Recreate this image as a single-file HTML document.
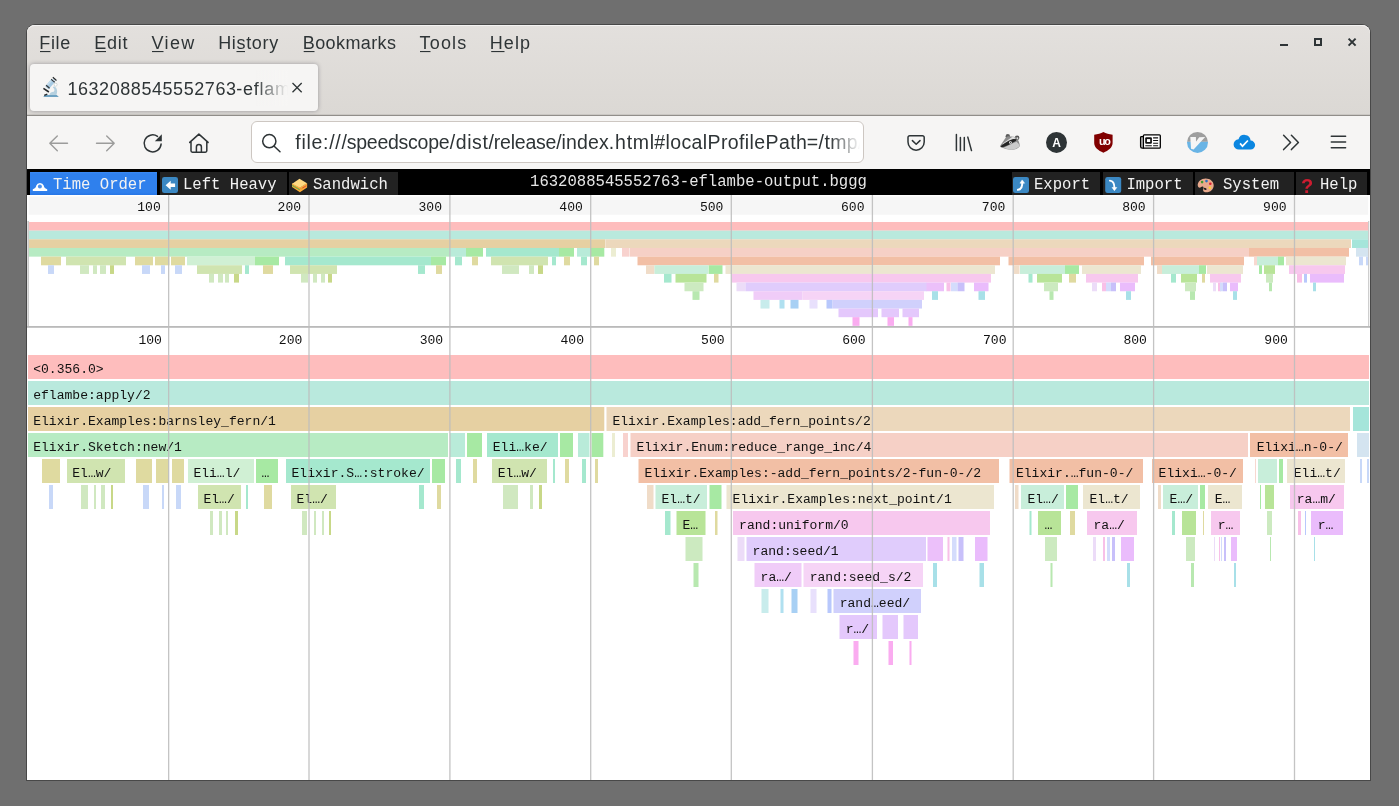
<!DOCTYPE html>
<html lang="en"><head><meta charset="utf-8"><title>1632088545552763-eflambe-output.bggg - speedscope</title>
<style>
html,body{margin:0;padding:0}
body{width:1399px;height:806px;overflow:hidden;background:#6f6f6f;position:relative;font-family:"Liberation Sans","DejaVu Sans",sans-serif;color:#2e3436}
.a{position:absolute}
.fg{position:absolute;left:27px;top:169px;will-change:transform}
.fg text{white-space:pre}

#win{left:27px;top:25px;width:1343px;height:755px;background:#fff;border-radius:8px 8px 0 0;box-shadow:0 0 0 1px #484848}
#title{left:27px;top:25px;width:1343px;height:90px;background:linear-gradient(#e3e0dd,#dbd8d4);border-radius:8px 8px 0 0;box-shadow:inset 0 1px 0 #f4f3f2}
#tabsep{left:27px;top:115px;width:1343px;height:1px;background:#918e8a;box-shadow:0 -1px 0 #cac7c3}
#tab{left:30px;top:64px;width:288px;height:47px;background:#f6f5f4;border-radius:4px;box-shadow:0 0 4px rgba(50,50,65,.4)}
#nav{left:27px;top:116px;width:1343px;height:53px;background:#f6f5f4}
#url{left:251px;top:121px;width:611px;height:40px;background:#fff;border:1px solid #cdc7c2;border-radius:6px}
#sstb{left:27px;top:169px;width:1343px;height:26px;background:#000}
.tb{top:172px;height:23px;background:#222}
.ov{position:absolute;left:0;top:0;will-change:transform}
.ov text{white-space:pre}

</style></head><body>
<div class="a" id="win"></div>
<div class="a" id="title"></div>
<div class="a" id="tabsep"></div>
<div class="a" id="tab"></div>
<div class="a" id="nav"></div>
<div class="a" id="url"></div>
<div class="a" id="sstb"></div>
<div class="a tb" style="left:30px;width:127px;background:linear-gradient(#3c8bf6,#2f80ed 8%,#2f80ed 88%,#2676e6)"></div>
<div class="a tb" style="left:159.5px;width:127.5px;background:#222"></div>
<div class="a tb" style="left:289px;width:109px;background:#222"></div>
<div class="a tb" style="left:1011.5px;width:88.5px;background:#222"></div>
<div class="a tb" style="left:1103px;width:90px;background:#222"></div>
<div class="a tb" style="left:1194.5px;width:99.5px;background:#222"></div>
<div class="a tb" style="left:1296px;width:71px;background:#222"></div>
<svg class="ov" width="1399" height="806" viewBox="0 0 1399 806">
<defs><linearGradient id="fadeTab" x1="0" x2="1" y1="0" y2="0"><stop offset="0" stop-color="#f6f5f4" stop-opacity="0"/><stop offset="1" stop-color="#f6f5f4"/></linearGradient><linearGradient id="fadeUrl" x1="0" x2="1" y1="0" y2="0"><stop offset="0" stop-color="#fff" stop-opacity="0"/><stop offset="1" stop-color="#fff"/></linearGradient></defs>
<g font-family='"Liberation Sans","DejaVu Sans",sans-serif'>
<text x="39.3" y="48.8" font-size="18" fill="#2e3436" textLength="31" lengthAdjust="spacing">File</text>
<text x="94.3" y="48.8" font-size="18" fill="#2e3436" textLength="33.3" lengthAdjust="spacing">Edit</text>
<text x="151.6" y="48.8" font-size="18" fill="#2e3436" textLength="42.6" lengthAdjust="spacing">View</text>
<text x="218.2" y="48.8" font-size="18" fill="#2e3436" textLength="60" lengthAdjust="spacing">History</text>
<text x="302.8" y="48.8" font-size="18" fill="#2e3436" textLength="93.2" lengthAdjust="spacing">Bookmarks</text>
<text x="419.6" y="48.8" font-size="18" fill="#2e3436" textLength="46.6" lengthAdjust="spacing">Tools</text>
<text x="489.8" y="48.8" font-size="18" fill="#2e3436" textLength="40.2" lengthAdjust="spacing">Help</text>
<rect x="40" y="51" width="10.5" height="1.1" fill="#2e3436"/>
<rect x="95.3" y="51" width="10.700000000000003" height="1.1" fill="#2e3436"/>
<rect x="152" y="51" width="11.5" height="1.1" fill="#2e3436"/>
<rect x="236.5" y="51" width="8.5" height="1.1" fill="#2e3436"/>
<rect x="303.7" y="51" width="10.800000000000011" height="1.1" fill="#2e3436"/>
<rect x="420" y="51" width="10.5" height="1.1" fill="#2e3436"/>
<rect x="491.2" y="51" width="13.300000000000011" height="1.1" fill="#2e3436"/>
<clipPath id="ct"><rect x="60" y="66" width="228" height="44"/></clipPath><clipPath id="cu"><rect x="290" y="122" width="571" height="40"/></clipPath>
<g clip-path="url(#ct)"><text y="95" font-size="18" fill="#2e3436"><tspan x="67.4" textLength="168.6" lengthAdjust="spacing">1632088545552763</tspan><tspan x="236.2" textLength="185.1" lengthAdjust="spacing">-eflambe-output.bggg</tspan></text></g>
<rect x="255" y="70" width="33" height="36" fill="url(#fadeTab)"/><rect x="288" y="70" width="29" height="36" fill="#f6f5f4"/>
<g clip-path="url(#cu)"><text y="148.8" font-size="19.5" fill="#2e3436"><tspan x="295.3" textLength="51.5" lengthAdjust="spacing">file:///</tspan><tspan x="346.8" textLength="102.8" lengthAdjust="spacing">speedscope</tspan><tspan x="449.8" textLength="44" lengthAdjust="spacing">/dist/</tspan><tspan x="493.8" textLength="67.8" lengthAdjust="spacing">release/</tspan><tspan x="561.6" textLength="47.2" lengthAdjust="spacing">index</tspan><tspan x="608.8" textLength="45.4" lengthAdjust="spacing">.html</tspan><tspan x="654.2" textLength="152.6" lengthAdjust="spacing">#localProfilePath</tspan><tspan x="806.8" textLength="56.7" lengthAdjust="spacing">=/tmp/</tspan></text></g>
<rect x="830" y="124" width="30" height="36" fill="url(#fadeUrl)"/><rect x="860" y="124" width="2" height="36" fill="#fff"/>
</g>
<g fill="none" stroke="#2e3436" stroke-width="2"><path d="M1280 45h8"/><rect x="1315" y="39" width="6" height="6"/><path d="M1348.6 38.6l7 7M1355.6 38.6l-7 7"/></g>
<path d="M292.5 83l9.2 9.2M301.7 83l-9.2 9.2" stroke="#2e3436" stroke-width="1.3" fill="none"/>
<g id="fav"><path d="M43.2 97l1.8-2.1h11.8l2 2.1z" fill="#6ea2c2"/><path d="M54 86.3c3.6 1.6 3.7 5.7 2.4 8.6h-7c.3-2.3 2.2-3.1 4.3-3.1 1.3-1.3.9-3.3-.9-4.3z" fill="#b5d0df"/><g transform="rotate(-49 50.9 83.2)"><rect x="44.8" y="80.9" width="10" height="4.6" rx=".8" fill="#a6c9e2"/><rect x="46.9" y="80.9" width="6.7" height="1.6" fill="#c6deee"/><rect x="45.6" y="80.9" width="1.3" height="4.6" fill="#33383b"/><rect x="53.5" y="80.9" width="1.2" height="4.6" fill="#33383b"/><rect x="54.7" y="81.8" width="1.4" height="2.8" fill="#cfe0ec"/><rect x="56" y="80.8" width="1.2" height="4.8" fill="#26292b"/></g><circle cx="55.6" cy="84.7" r="1.5" fill="#fff" stroke="#9aa" stroke-width=".4"/><path d="M43.4 88.4l5.5 3.6" stroke="#26292b" stroke-width="1.6" fill="none"/><path d="M44.2 95.4l3.1-1.3" stroke="#26292b" stroke-width="1.3" fill="none"/></g>
<g fill="none" stroke="#9c9c9b" stroke-width="1.4" stroke-linecap="round" stroke-linejoin="round"><path d="M67.5 143.3H49.8M57.3 135.9l-7.5 7.4 7.5 7.4"/><path d="M96.5 143.3h17.7M106.7 135.9l7.5 7.4-7.5 7.4"/></g>
<g fill="none" stroke="#2e3436" stroke-width="1.5" stroke-linecap="round" stroke-linejoin="round"><path d="M157.5 136.4a8.5 8.5 0 1 0 3.6 7.7"/><path d="M189.7 142.4l9.2-8.3 9.2 8.3M191 141.6v9.2a1.4 1.4 0 0 0 1.4 1.4h13a1.4 1.4 0 0 0 1.4-1.4v-9.2M196.4 152v-5a2.5 2.5 0 0 1 5 0v5"/><circle cx="269.3" cy="141.2" r="6.6"/><path d="M274.2 146.2l5.8 5.6"/><path d="M909.7 135.8h12.8a1.7 1.7 0 0 1 1.7 1.7v4.6a8.1 8.1 0 0 1-16.2 0v-4.6a1.7 1.7 0 0 1 1.7-1.7z"/><path d="M912.4 140.6l3.8 3.7 3.8-3.7"/><path d="M956.4 134.4v16.2M960.4 137.4v13.2M964.3 137.4v13.2M967.8 137.1l3.7 13.5"/><path d="M1283.6 135.2l7 7.2-7 7.2M1291.4 135.2l7 7.2-7 7.2"/><path d="M1331.3 136.3h14.3M1331.3 142h14.3M1331.3 147.7h14.3"/></g>
<path d="M161.8 134.3v7h-7z" fill="#2e3436"/>
<g id="badger"><circle cx="1007.8" cy="136.3" r="2.2" fill="#5c5c5c"/><circle cx="1017.1" cy="137.8" r="2.3" fill="#555"/><circle cx="1017.3" cy="138.3" r="1" fill="#d8d8d8"/><path d="M1000.2 145.8l5.6-8.4c1.5-1.1 2.8-1.3 4.2-.8 2-.3 4-.1 5.6.7l2.7 3.2c1 2 1.6 4 1.3 6.1-2.1 2.2-4.8 3.3-7.8 3.2-3.8 0-8.3-1.5-11-2.6z" fill="#8c8c8c"/><path d="M1002.5 143.8l10.3-7.2 2.9 1.4-10.5 8.2z" fill="#dedede"/><path d="M1000.3 146.4l3.8-2.9 5-3 4-1.5 3.6.3-.9 1.7-3.3 1.8-3.5 2-4 1.7-3 .8z" fill="#242424"/><path d="M1003.5 147.7l5.5-2.4 4-2.1 3.5-1.5 2.3 2.3.5 2.5-3.3 2.2-4.2 1.1-4.8-.8z" fill="#cbcbcb"/><ellipse cx="1010.4" cy="142.5" rx="1.4" ry="1.2" fill="#f0f0f0"/><circle cx="1010.5" cy="142.5" r=".6" fill="#333"/></g>
<circle cx="1056.5" cy="142.4" r="10.5" fill="#2e3436"/>
<text x="1056.5" y="146.7" font-family='"Liberation Sans","DejaVu Sans",sans-serif' font-weight="bold" font-size="12" fill="#fff" text-anchor="middle">A</text>
<path d="M1103.4 132.1c2.6 1.5 5.6 2.4 9.2 2.7v8.2c0 4.5-4.1 7.5-9.2 9.7-5.1-2.2-9.2-5.2-9.2-9.7v-8.2c3.6-.3 6.6-1.2 9.2-2.7z" fill="#800000"/>
<text x="1104.2" y="144.5" font-family='"Liberation Sans","DejaVu Sans",sans-serif' font-weight="bold" font-size="10.8" fill="#fff" text-anchor="middle" letter-spacing="-1.4">uo</text>
<path d="M1144 136.6h-2.6a.8.8 0 0 0-.8.8v9.2a1.6 1.6 0 0 0 1.6 1.6h2" fill="#c8c8c8" stroke="#000" stroke-width="1.3"/><rect x="1143.4" y="134.9" width="16.9" height="13.3" rx=".9" fill="#fff" stroke="#000" stroke-width="1.3"/><rect x="1145.2" y="137.2" width="6.7" height="6.5" rx="1" fill="#111"/><rect x="1146.9" y="139.1" width="3.3" height="2.9" fill="#fff"/><path d="M1153.1 137.9h5M1153.1 140.5h5M1153.1 143.3h5M1153.1 145.7h5M1145.3 145.7h6.5" stroke="#111" stroke-width="1.1" fill="none"/>
<clipPath id="vc"><circle cx="1197.5" cy="142.4" r="10.5"/></clipPath><g clip-path="url(#vc)"><rect x="1186" y="131" width="23" height="10.8" fill="#9e9e9e"/><rect x="1186" y="141.8" width="23" height="12" fill="#69b4e5"/><path d="M1190.3 137.1h5.6l.1 4.7 3.2-4.6 6-.1-11.6 12.3-2.6-.7z" fill="#f5f5f5"/></g>
<path d="M1239.1 149.6a5.2 5.2 0 0 1-.6-10.4 6.2 6.2 0 0 1 12.1 1.4 4.5 4.5 0 0 1 0 9z" fill="#0b86e0"/><path d="M1240.1 143.4l2.4 2.8 5.4-5.7" stroke="#fff" stroke-width="1.7" fill="none"/>
<g font-family='"Liberation Mono","DejaVu Sans Mono",monospace' font-size="15.6" fill="#f2f2f2">
<text x="53" y="188.8">Time Order</text>
<text x="183" y="188.8">Left Heavy</text>
<text x="313" y="188.8">Sandwich</text>
<text x="1034" y="188.8">Export</text>
<text x="1126.4" y="188.8">Import</text>
<text x="1223" y="188.8">System</text>
<text x="1320" y="188.8">Help</text>
<text x="698.5" y="186" text-anchor="middle" fill="#e6e6e6">1632088545552763-eflambe-output.bggg</text>
</g>
<path d="M32.8 191v-1.8c2.5-.5 3.1-2 3.5-3.6a3.9 3.9 0 0 1 7.4 0c.4 1.6 1 3.1 3.5 3.6v1.8z" fill="#fff"/><circle cx="39.9" cy="186.5" r="2" fill="#4f93ee"/>
<rect x="162" y="177" width="16" height="16" rx="2.3" fill="#3b88c3"/><path d="M165.6 185.3l5.1-4.5v2.6h4.4v3.5h-4.4v2.9z" fill="#fff"/>
<g id="sand"><path d="M292 185.5l7.9 4.5 7.2-4.5v2l-7.2 4.8-7.9-5.3z" fill="#ffac33"/><path d="M292 184.6l7.9 4.4v1.5l-7.9-4.5z" fill="#77b255"/><path d="M299.9 189l7.2-4.5v1.4l-7.2 4.6z" fill="#f4a640"/><path d="M302.5 187.5l3.8-2.4v1l-3.8 2.4z" fill="#dd2e44"/><path d="M292 183.2l7.9 4.4 7.2-4.6v1.7l-7.2 4.6-7.9-4.5z" fill="#ffac33"/><path d="M292.2 183.7l7.3-5 7.5 4.5-7.1 4.6z" fill="#ffd983"/></g>
<rect x="1013" y="177" width="16" height="16" rx="2.3" fill="#3b88c3"/><path d="M1017.9 189.8c3.1-.3 4.4-2.3 4.4-7" stroke="#fff" stroke-width="1.9" fill="none" stroke-linecap="round"/><path d="M1019.9 183.2l2.3-3.3 2.4 3.3z" fill="#fff" stroke="#fff" stroke-width=".5" stroke-linejoin="round"/>
<rect x="1105.2" y="177" width="16" height="16" rx="2.3" fill="#3b88c3"/><path d="M1109.9 180.6c3.3.4 4.5 2.4 4.5 7" stroke="#fff" stroke-width="1.9" fill="none" stroke-linecap="round"/><path d="M1112 187.5l2.4 3.2 2.4-3.2z" fill="#fff" stroke="#fff" stroke-width=".5" stroke-linejoin="round"/>
<g id="pal"><path d="M1205.7 178.4c-4.6 0-8 3.1-8 6.7 0 1.7.9 2.6 2 2.6 1.3 0 1.6-1.2 2.7-1.2.9 0 1.4.6 1.1 1.5-.6 1.7-1 4.3 2.8 4.3 4.3 0 7.4-3.2 7.4-7.1 0-3.9-3.6-6.8-8-6.8z" fill="#e9a98c"/><ellipse cx="1205.1" cy="188.9" rx="1.5" ry=".9" transform="rotate(20 1205.1 188.9)" fill="#222"/><circle cx="1202.1" cy="182.1" r="1.3" fill="#3e9a2e"/><circle cx="1206.5" cy="181.1" r="1.3" fill="#2a6fc0"/><circle cx="1210.3" cy="183.7" r="1.3" fill="#dd2034"/><circle cx="1209.9" cy="187.7" r="1.3" fill="#ffd030"/></g>
<text x="1307.1" y="192.5" font-family='"Liberation Sans","DejaVu Sans",sans-serif' font-weight="bold" font-size="20" fill="#cc1c30" text-anchor="middle">?</text>
</svg>
<svg class="fg" width="1343" height="611" viewBox="27 169 1343 611">
<rect x="27" y="195" width="1343" height="19.7" fill="#f6f6f6"/>
<rect x="27.5" y="222" width="1342" height="8.7" fill="#febdbd"/>
<rect x="27.5" y="230.65" width="1342" height="8.7" fill="#b9e9dd"/>
<rect x="27.5" y="239.3" width="577.8" height="8.7" fill="#e6d0a2"/>
<rect x="605.5" y="239.3" width="745.5" height="8.7" fill="#ecd8bc"/>
<rect x="1352" y="239.3" width="17.5" height="8.7" fill="#a5e5da"/>
<rect x="27.5" y="247.95" width="421.5" height="8.7" fill="#b7ebc3"/>
<rect x="449" y="247.95" width="17" height="8.7" fill="#b9ebd9"/>
<rect x="466" y="247.95" width="17" height="8.7" fill="#a7e9a3"/>
<rect x="486" y="247.95" width="73" height="8.7" fill="#a5e8ce"/>
<rect x="559" y="247.95" width="15" height="8.7" fill="#a7e9a3"/>
<rect x="577" y="247.95" width="13.5" height="8.7" fill="#b9ebd9"/>
<rect x="590.5" y="247.95" width="13.8" height="8.7" fill="#a7e9a3"/>
<rect x="611" y="247.95" width="5" height="8.7" fill="#ecedd2"/>
<rect x="622" y="247.95" width="7" height="8.7" fill="#f8d2ce"/>
<rect x="629.5" y="247.95" width="619.5" height="8.7" fill="#f6d0c6"/>
<rect x="1249" y="247.95" width="100" height="8.7" fill="#f2bfa5"/>
<rect x="1356" y="247.95" width="13.5" height="8.7" fill="#d4e4f0"/>
<rect x="41" y="256.6" width="20" height="8.7" fill="#dfdaa0"/>
<rect x="66" y="256.6" width="60" height="8.7" fill="#d0e4b0"/>
<rect x="135" y="256.6" width="18" height="8.7" fill="#dfdaa0"/>
<rect x="155" y="256.6" width="14.5" height="8.7" fill="#dfdaa0"/>
<rect x="171" y="256.6" width="14" height="8.7" fill="#dfdaa0"/>
<rect x="187" y="256.6" width="68" height="8.7" fill="#d0f0d4"/>
<rect x="255" y="256.6" width="24" height="8.7" fill="#a7e9a3"/>
<rect x="285" y="256.6" width="146" height="8.7" fill="#a5e8ce"/>
<rect x="431" y="256.6" width="15" height="8.7" fill="#a7e9a3"/>
<rect x="455" y="256.6" width="7" height="8.7" fill="#a5e8ce"/>
<rect x="472" y="256.6" width="6" height="8.7" fill="#dfdaa0"/>
<rect x="491" y="256.6" width="57" height="8.7" fill="#d0e4b0"/>
<rect x="552" y="256.6" width="4" height="8.7" fill="#a5e8ce"/>
<rect x="564" y="256.6" width="6" height="8.7" fill="#dfdaa0"/>
<rect x="581" y="256.6" width="6" height="8.7" fill="#a5e8ce"/>
<rect x="594" y="256.6" width="5" height="8.7" fill="#dfdaa0"/>
<rect x="637.5" y="256.6" width="362.5" height="8.7" fill="#f2bfa5"/>
<rect x="1008.5" y="256.6" width="135.5" height="8.7" fill="#f2bfa5"/>
<rect x="1151" y="256.6" width="93" height="8.7" fill="#f2bfa5"/>
<rect x="1254" y="256.6" width="3" height="8.7" fill="#f8d8d0"/>
<rect x="1257" y="256.6" width="21" height="8.7" fill="#c8eeda"/>
<rect x="1278" y="256.6" width="6" height="8.7" fill="#a7e9a3"/>
<rect x="1286" y="256.6" width="60" height="8.7" fill="#ece6d0"/>
<rect x="1359" y="256.6" width="4" height="8.7" fill="#c8d8f8"/>
<rect x="1366" y="256.6" width="3.5" height="8.7" fill="#c8d8f8"/>
<rect x="48" y="265.25" width="6" height="8.7" fill="#c8d8f8"/>
<rect x="80" y="265.25" width="9" height="8.7" fill="#d0e8c0"/>
<rect x="93" y="265.25" width="4" height="8.7" fill="#d0e8c0"/>
<rect x="100" y="265.25" width="6" height="8.7" fill="#d0e8c0"/>
<rect x="110" y="265.25" width="4" height="8.7" fill="#c8d888"/>
<rect x="142" y="265.25" width="8" height="8.7" fill="#c8d8f8"/>
<rect x="161" y="265.25" width="4" height="8.7" fill="#c8d8f8"/>
<rect x="175" y="265.25" width="7" height="8.7" fill="#c8d8f8"/>
<rect x="197" y="265.25" width="45" height="8.7" fill="#d0e4b0"/>
<rect x="245" y="265.25" width="4" height="8.7" fill="#a5e8ce"/>
<rect x="263" y="265.25" width="10" height="8.7" fill="#dfdaa0"/>
<rect x="290" y="265.25" width="47" height="8.7" fill="#d0e4b0"/>
<rect x="418" y="265.25" width="7" height="8.7" fill="#a5e8ce"/>
<rect x="436" y="265.25" width="6" height="8.7" fill="#dfdaa0"/>
<rect x="502" y="265.25" width="17" height="8.7" fill="#d0e8c0"/>
<rect x="529" y="265.25" width="5" height="8.7" fill="#d0e8c0"/>
<rect x="538" y="265.25" width="5" height="8.7" fill="#c8d888"/>
<rect x="646" y="265.25" width="8.5" height="8.7" fill="#f0dcc8"/>
<rect x="654.5" y="265.25" width="53.5" height="8.7" fill="#c8eeda"/>
<rect x="708.5" y="265.25" width="14" height="8.7" fill="#a7e9a3"/>
<rect x="725.5" y="265.25" width="269.5" height="8.7" fill="#ece6d0"/>
<rect x="1014" y="265.25" width="5.5" height="8.7" fill="#f0dcc8"/>
<rect x="1020" y="265.25" width="45" height="8.7" fill="#c8eeda"/>
<rect x="1065" y="265.25" width="14" height="8.7" fill="#a7e9a3"/>
<rect x="1082" y="265.25" width="59" height="8.7" fill="#ece6d0"/>
<rect x="1157" y="265.25" width="5" height="8.7" fill="#f0dcc8"/>
<rect x="1162" y="265.25" width="37" height="8.7" fill="#c8eeda"/>
<rect x="1199" y="265.25" width="7" height="8.7" fill="#a7e9a3"/>
<rect x="1207" y="265.25" width="36" height="8.7" fill="#ece6d0"/>
<rect x="1259" y="265.25" width="3" height="8.7" fill="#a7e9a3"/>
<rect x="1264" y="265.25" width="11" height="8.7" fill="#b8e498"/>
<rect x="1289" y="265.25" width="56" height="8.7" fill="#f7c8ee"/>
<rect x="209" y="273.9" width="5" height="8.7" fill="#d0e8c0"/>
<rect x="218" y="273.9" width="5" height="8.7" fill="#d0e8c0"/>
<rect x="225" y="273.9" width="4" height="8.7" fill="#d0e8c0"/>
<rect x="234" y="273.9" width="5" height="8.7" fill="#c8d888"/>
<rect x="301" y="273.9" width="7" height="8.7" fill="#d0e8c0"/>
<rect x="313" y="273.9" width="4" height="8.7" fill="#d0e8c0"/>
<rect x="321" y="273.9" width="4" height="8.7" fill="#d0e8c0"/>
<rect x="328" y="273.9" width="4" height="8.7" fill="#c8d888"/>
<rect x="664" y="273.9" width="7.5" height="8.7" fill="#a5e8ce"/>
<rect x="675.5" y="273.9" width="31" height="8.7" fill="#b8e498"/>
<rect x="714" y="273.9" width="4.5" height="8.7" fill="#dfdaa0"/>
<rect x="732" y="273.9" width="259" height="8.7" fill="#f7c8ee"/>
<rect x="1028.5" y="273.9" width="4" height="8.7" fill="#a5e8ce"/>
<rect x="1037" y="273.9" width="25" height="8.7" fill="#b8e498"/>
<rect x="1069" y="273.9" width="7" height="8.7" fill="#dfdaa0"/>
<rect x="1086" y="273.9" width="52" height="8.7" fill="#f7c8ee"/>
<rect x="1171" y="273.9" width="5" height="8.7" fill="#a5e8ce"/>
<rect x="1181" y="273.9" width="16" height="8.7" fill="#b8e498"/>
<rect x="1202" y="273.9" width="3" height="8.7" fill="#dfdaa0"/>
<rect x="1210" y="273.9" width="31" height="8.7" fill="#f7c8ee"/>
<rect x="1266" y="273.9" width="7" height="8.7" fill="#ccEAc0"/>
<rect x="1297" y="273.9" width="5" height="8.7" fill="#f8c0e8"/>
<rect x="1304" y="273.9" width="3" height="8.7" fill="#b8c8fc"/>
<rect x="1310" y="273.9" width="34" height="8.7" fill="#eabcfc"/>
<rect x="684.5" y="282.55" width="19" height="8.7" fill="#ccEAc0"/>
<rect x="736.5" y="282.55" width="9" height="8.7" fill="#ecdcf8"/>
<rect x="745.5" y="282.55" width="181.5" height="8.7" fill="#e0ccfc"/>
<rect x="926.5" y="282.55" width="17.5" height="8.7" fill="#ecc0fa"/>
<rect x="946.5" y="282.55" width="4" height="8.7" fill="#f8c0e8"/>
<rect x="951" y="282.55" width="6.5" height="8.7" fill="#d4dcfc"/>
<rect x="957.5" y="282.55" width="7" height="8.7" fill="#c8c0fa"/>
<rect x="974" y="282.55" width="14.5" height="8.7" fill="#eabcfc"/>
<rect x="1044" y="282.55" width="14" height="8.7" fill="#ccEAc0"/>
<rect x="1092" y="282.55" width="5" height="8.7" fill="#ecdcf8"/>
<rect x="1102" y="282.55" width="4" height="8.7" fill="#f8c0e8"/>
<rect x="1106" y="282.55" width="5" height="8.7" fill="#d4dcfc"/>
<rect x="1111" y="282.55" width="5" height="8.7" fill="#c8c0fa"/>
<rect x="1120" y="282.55" width="15" height="8.7" fill="#eabcfc"/>
<rect x="1185" y="282.55" width="11" height="8.7" fill="#ccEAc0"/>
<rect x="1213" y="282.55" width="3" height="8.7" fill="#ecdcf8"/>
<rect x="1218" y="282.55" width="3" height="8.7" fill="#f8c0e8"/>
<rect x="1220" y="282.55" width="3" height="8.7" fill="#d4dcfc"/>
<rect x="1223" y="282.55" width="4" height="8.7" fill="#c8c0fa"/>
<rect x="1230" y="282.55" width="8" height="8.7" fill="#eabcfc"/>
<rect x="1269" y="282.55" width="3" height="8.7" fill="#b8e8b0"/>
<rect x="1313" y="282.55" width="3" height="8.7" fill="#a8e0e8"/>
<rect x="692.5" y="291.2" width="7" height="8.7" fill="#b8e8b0"/>
<rect x="753.5" y="291.2" width="49" height="8.7" fill="#f0ccf8"/>
<rect x="802.5" y="291.2" width="121.5" height="8.7" fill="#f6d4f6"/>
<rect x="932" y="291.2" width="6" height="8.7" fill="#a8e0e8"/>
<rect x="978.5" y="291.2" width="6.5" height="8.7" fill="#a8e0e8"/>
<rect x="1049.5" y="291.2" width="4" height="8.7" fill="#b8e8b0"/>
<rect x="1126" y="291.2" width="5" height="8.7" fill="#a8e0e8"/>
<rect x="1190" y="291.2" width="5" height="8.7" fill="#b8e8b0"/>
<rect x="1233" y="291.2" width="4" height="8.7" fill="#a8e0e8"/>
<rect x="760.5" y="299.85" width="9" height="8.7" fill="#c8ecec"/>
<rect x="779.5" y="299.85" width="5" height="8.7" fill="#b0e0f0"/>
<rect x="790.5" y="299.85" width="8" height="8.7" fill="#a8d0f4"/>
<rect x="809.5" y="299.85" width="8" height="8.7" fill="#e8e0fc"/>
<rect x="826.5" y="299.85" width="6" height="8.7" fill="#b8c8fc"/>
<rect x="832.5" y="299.85" width="89.5" height="8.7" fill="#d0d0fc"/>
<rect x="838.5" y="308.5" width="39.5" height="8.7" fill="#e4c8fc"/>
<rect x="881.5" y="308.5" width="17.5" height="8.7" fill="#e4c8fc"/>
<rect x="902.5" y="308.5" width="16.5" height="8.7" fill="#e4c8fc"/>
<rect x="852.5" y="317.15" width="7" height="8.7" fill="#faacf0"/>
<rect x="887.5" y="317.15" width="6.5" height="8.7" fill="#faacf0"/>
<rect x="908.5" y="317.15" width="4" height="8.7" fill="#faacf0"/>
<rect x="28" y="355" width="1341" height="24" fill="#febdbd"/>
<rect x="28" y="381" width="1341" height="24" fill="#b9e9dd"/>
<rect x="28" y="407" width="576.3" height="24" fill="#e6d0a2"/>
<rect x="606.5" y="407" width="743.5" height="24" fill="#ecd8bc"/>
<rect x="1353" y="407" width="16" height="24" fill="#a5e5da"/>
<rect x="28" y="433" width="420" height="24" fill="#b7ebc3"/>
<rect x="450" y="433" width="15" height="24" fill="#b9ebd9"/>
<rect x="467" y="433" width="15" height="24" fill="#a7e9a3"/>
<rect x="487" y="433" width="71" height="24" fill="#a5e8ce"/>
<rect x="560" y="433" width="13" height="24" fill="#a7e9a3"/>
<rect x="578" y="433" width="11.5" height="24" fill="#b9ebd9"/>
<rect x="591.5" y="433" width="11.8" height="24" fill="#a7e9a3"/>
<rect x="612" y="433" width="3" height="24" fill="#ecedd2"/>
<rect x="623" y="433" width="5" height="24" fill="#f8d2ce"/>
<rect x="630.5" y="433" width="617.5" height="24" fill="#f6d0c6"/>
<rect x="1250" y="433" width="98" height="24" fill="#f2bfa5"/>
<rect x="1357" y="433" width="12" height="24" fill="#d4e4f0"/>
<rect x="42" y="459" width="18" height="24" fill="#dfdaa0"/>
<rect x="67" y="459" width="58" height="24" fill="#d0e4b0"/>
<rect x="136" y="459" width="16" height="24" fill="#dfdaa0"/>
<rect x="156" y="459" width="12.5" height="24" fill="#dfdaa0"/>
<rect x="172" y="459" width="12" height="24" fill="#dfdaa0"/>
<rect x="188" y="459" width="66" height="24" fill="#d0f0d4"/>
<rect x="256" y="459" width="22" height="24" fill="#a7e9a3"/>
<rect x="286" y="459" width="144" height="24" fill="#a5e8ce"/>
<rect x="432" y="459" width="13" height="24" fill="#a7e9a3"/>
<rect x="456" y="459" width="5" height="24" fill="#a5e8ce"/>
<rect x="473" y="459" width="4" height="24" fill="#dfdaa0"/>
<rect x="492" y="459" width="55" height="24" fill="#d0e4b0"/>
<rect x="553" y="459" width="2" height="24" fill="#a5e8ce"/>
<rect x="565" y="459" width="4" height="24" fill="#dfdaa0"/>
<rect x="582" y="459" width="4" height="24" fill="#a5e8ce"/>
<rect x="595" y="459" width="3" height="24" fill="#dfdaa0"/>
<rect x="638.5" y="459" width="360.5" height="24" fill="#f2bfa5"/>
<rect x="1009.5" y="459" width="133.5" height="24" fill="#f2bfa5"/>
<rect x="1152" y="459" width="91" height="24" fill="#f2bfa5"/>
<rect x="1255" y="459" width="1" height="24" fill="#f8d8d0"/>
<rect x="1258" y="459" width="19" height="24" fill="#c8eeda"/>
<rect x="1279" y="459" width="4" height="24" fill="#a7e9a3"/>
<rect x="1287" y="459" width="58" height="24" fill="#ece6d0"/>
<rect x="1360" y="459" width="2" height="24" fill="#c8d8f8"/>
<rect x="1367" y="459" width="2" height="24" fill="#c8d8f8"/>
<rect x="49" y="485" width="4" height="24" fill="#c8d8f8"/>
<rect x="81" y="485" width="7" height="24" fill="#d0e8c0"/>
<rect x="94" y="485" width="2" height="24" fill="#d0e8c0"/>
<rect x="101" y="485" width="4" height="24" fill="#d0e8c0"/>
<rect x="111" y="485" width="2" height="24" fill="#c8d888"/>
<rect x="143" y="485" width="6" height="24" fill="#c8d8f8"/>
<rect x="162" y="485" width="2" height="24" fill="#c8d8f8"/>
<rect x="176" y="485" width="5" height="24" fill="#c8d8f8"/>
<rect x="198" y="485" width="43" height="24" fill="#d0e4b0"/>
<rect x="246" y="485" width="2" height="24" fill="#a5e8ce"/>
<rect x="264" y="485" width="8" height="24" fill="#dfdaa0"/>
<rect x="291" y="485" width="45" height="24" fill="#d0e4b0"/>
<rect x="419" y="485" width="5" height="24" fill="#a5e8ce"/>
<rect x="437" y="485" width="4" height="24" fill="#dfdaa0"/>
<rect x="503" y="485" width="15" height="24" fill="#d0e8c0"/>
<rect x="530" y="485" width="3" height="24" fill="#d0e8c0"/>
<rect x="539" y="485" width="3" height="24" fill="#c8d888"/>
<rect x="647" y="485" width="6.5" height="24" fill="#f0dcc8"/>
<rect x="655.5" y="485" width="51.5" height="24" fill="#c8eeda"/>
<rect x="709.5" y="485" width="12" height="24" fill="#a7e9a3"/>
<rect x="726.5" y="485" width="267.5" height="24" fill="#ece6d0"/>
<rect x="1015" y="485" width="3.5" height="24" fill="#f0dcc8"/>
<rect x="1021" y="485" width="43" height="24" fill="#c8eeda"/>
<rect x="1066" y="485" width="12" height="24" fill="#a7e9a3"/>
<rect x="1083" y="485" width="57" height="24" fill="#ece6d0"/>
<rect x="1158" y="485" width="3" height="24" fill="#f0dcc8"/>
<rect x="1163" y="485" width="35" height="24" fill="#c8eeda"/>
<rect x="1200" y="485" width="5" height="24" fill="#a7e9a3"/>
<rect x="1208" y="485" width="34" height="24" fill="#ece6d0"/>
<rect x="1260" y="485" width="1" height="24" fill="#a7e9a3"/>
<rect x="1265" y="485" width="9" height="24" fill="#b8e498"/>
<rect x="1290" y="485" width="54" height="24" fill="#f7c8ee"/>
<rect x="210" y="511" width="3" height="24" fill="#d0e8c0"/>
<rect x="219" y="511" width="3" height="24" fill="#d0e8c0"/>
<rect x="226" y="511" width="2" height="24" fill="#d0e8c0"/>
<rect x="235" y="511" width="3" height="24" fill="#c8d888"/>
<rect x="302" y="511" width="5" height="24" fill="#d0e8c0"/>
<rect x="314" y="511" width="2" height="24" fill="#d0e8c0"/>
<rect x="322" y="511" width="2" height="24" fill="#d0e8c0"/>
<rect x="329" y="511" width="2" height="24" fill="#c8d888"/>
<rect x="665" y="511" width="5.5" height="24" fill="#a5e8ce"/>
<rect x="676.5" y="511" width="29" height="24" fill="#b8e498"/>
<rect x="715" y="511" width="2.5" height="24" fill="#dfdaa0"/>
<rect x="733" y="511" width="257" height="24" fill="#f7c8ee"/>
<rect x="1029.5" y="511" width="2" height="24" fill="#a5e8ce"/>
<rect x="1038" y="511" width="23" height="24" fill="#b8e498"/>
<rect x="1070" y="511" width="5" height="24" fill="#dfdaa0"/>
<rect x="1087" y="511" width="50" height="24" fill="#f7c8ee"/>
<rect x="1172" y="511" width="3" height="24" fill="#a5e8ce"/>
<rect x="1182" y="511" width="14" height="24" fill="#b8e498"/>
<rect x="1203" y="511" width="1" height="24" fill="#dfdaa0"/>
<rect x="1211" y="511" width="29" height="24" fill="#f7c8ee"/>
<rect x="1267" y="511" width="5" height="24" fill="#ccEAc0"/>
<rect x="1298" y="511" width="3" height="24" fill="#f8c0e8"/>
<rect x="1305" y="511" width="1" height="24" fill="#b8c8fc"/>
<rect x="1311" y="511" width="32" height="24" fill="#eabcfc"/>
<rect x="685.5" y="537" width="17" height="24" fill="#ccEAc0"/>
<rect x="737.5" y="537" width="7" height="24" fill="#ecdcf8"/>
<rect x="746.5" y="537" width="179.5" height="24" fill="#e0ccfc"/>
<rect x="927.5" y="537" width="15.5" height="24" fill="#ecc0fa"/>
<rect x="947.5" y="537" width="2" height="24" fill="#f8c0e8"/>
<rect x="952" y="537" width="4.5" height="24" fill="#d4dcfc"/>
<rect x="958.5" y="537" width="5" height="24" fill="#c8c0fa"/>
<rect x="975" y="537" width="12.5" height="24" fill="#eabcfc"/>
<rect x="1045" y="537" width="12" height="24" fill="#ccEAc0"/>
<rect x="1093" y="537" width="3" height="24" fill="#ecdcf8"/>
<rect x="1103" y="537" width="2" height="24" fill="#f8c0e8"/>
<rect x="1107" y="537" width="3" height="24" fill="#d4dcfc"/>
<rect x="1112" y="537" width="3" height="24" fill="#c8c0fa"/>
<rect x="1121" y="537" width="13" height="24" fill="#eabcfc"/>
<rect x="1186" y="537" width="9" height="24" fill="#ccEAc0"/>
<rect x="1214" y="537" width="1" height="24" fill="#ecdcf8"/>
<rect x="1219" y="537" width="1" height="24" fill="#f8c0e8"/>
<rect x="1221" y="537" width="1" height="24" fill="#d4dcfc"/>
<rect x="1224" y="537" width="2" height="24" fill="#c8c0fa"/>
<rect x="1231" y="537" width="6" height="24" fill="#eabcfc"/>
<rect x="1270" y="537" width="1" height="24" fill="#b8e8b0"/>
<rect x="1314" y="537" width="1" height="24" fill="#a8e0e8"/>
<rect x="693.5" y="563" width="5" height="24" fill="#b8e8b0"/>
<rect x="754.5" y="563" width="47" height="24" fill="#f0ccf8"/>
<rect x="803.5" y="563" width="119.5" height="24" fill="#f6d4f6"/>
<rect x="933" y="563" width="4" height="24" fill="#a8e0e8"/>
<rect x="979.5" y="563" width="4.5" height="24" fill="#a8e0e8"/>
<rect x="1050.5" y="563" width="2" height="24" fill="#b8e8b0"/>
<rect x="1127" y="563" width="3" height="24" fill="#a8e0e8"/>
<rect x="1191" y="563" width="3" height="24" fill="#b8e8b0"/>
<rect x="1234" y="563" width="2" height="24" fill="#a8e0e8"/>
<rect x="761.5" y="589" width="7" height="24" fill="#c8ecec"/>
<rect x="780.5" y="589" width="3" height="24" fill="#b0e0f0"/>
<rect x="791.5" y="589" width="6" height="24" fill="#a8d0f4"/>
<rect x="810.5" y="589" width="6" height="24" fill="#e8e0fc"/>
<rect x="827.5" y="589" width="4" height="24" fill="#b8c8fc"/>
<rect x="833.5" y="589" width="87.5" height="24" fill="#d0d0fc"/>
<rect x="839.5" y="615" width="37.5" height="24" fill="#e4c8fc"/>
<rect x="882.5" y="615" width="15.5" height="24" fill="#e4c8fc"/>
<rect x="903.5" y="615" width="14.5" height="24" fill="#e4c8fc"/>
<rect x="853.5" y="641" width="5" height="24" fill="#faacf0"/>
<rect x="888.5" y="641" width="4.5" height="24" fill="#faacf0"/>
<rect x="909.5" y="641" width="2" height="24" fill="#faacf0"/>
<rect x="27" y="326" width="1343" height="1.8" fill="#bababa"/>
<g font-family='"Liberation Mono","DejaVu Sans Mono",monospace' font-size="13.06" fill="#111">
<text x="33.18" y="373.1">&lt;0.356.0&gt;</text>
<text x="33.18" y="399.1">eflambe:apply/2</text>
<text x="33.18" y="425.1">Elixir.Examples:barnsley_fern/1</text>
<text x="612.41" y="425.1">Elixir.Examples:add_fern_points/2</text>
<text x="33.18" y="451.1">Elixir.Sketch:new/1</text>
<text x="492.76" y="451.1">Eli…ke/</text>
<text x="636.44" y="451.1">Elixir.Enum:reduce_range_inc/4</text>
<text x="1256.71" y="451.1">Elixi…n-0-/</text>
<text x="72.23" y="477.1">El…w/</text>
<text x="193.39" y="477.1">Eli…l/</text>
<text x="261.47" y="477.1">…</text>
<text x="291.51" y="477.1">Elixir.S…:stroke/</text>
<text x="497.76" y="477.1">El…w/</text>
<text x="644.45" y="477.1">Elixir.Examples:-add_fern_points/2-fun-0-/2</text>
<text x="1015.91" y="477.1">Elixir.…fun-0-/</text>
<text x="1158.59" y="477.1">Elixi…-0-/</text>
<text x="1293.76" y="477.1">Eli…t/</text>
<text x="203.4" y="503.1">El…/</text>
<text x="296.51" y="503.1">El…/</text>
<text x="661.47" y="503.1">El…t/</text>
<text x="732.56" y="503.1">Elixir.Examples:next_point/1</text>
<text x="1027.43" y="503.1">El…/</text>
<text x="1089.5" y="503.1">El…t/</text>
<text x="1169.6" y="503.1">E…/</text>
<text x="1214.66" y="503.1">E…</text>
<text x="1296.76" y="503.1">ra…m/</text>
<text x="682.5" y="529.1">E…</text>
<text x="739.07" y="529.1">rand:uniform/0</text>
<text x="1044.45" y="529.1">…</text>
<text x="1093.51" y="529.1">ra…/</text>
<text x="1217.66" y="529.1">r…</text>
<text x="1317.79" y="529.1">r…</text>
<text x="752.58" y="555.1">rand:seed/1</text>
<text x="760.59" y="581.1">ra…/</text>
<text x="809.65" y="581.1">rand:seed_s/2</text>
<text x="839.69" y="607.1">rand…eed/</text>
<text x="845.7" y="633.1">r…/</text>
<text x="160.75" y="210.6" text-anchor="end">100</text>
<text x="161.95" y="343.9" text-anchor="end">100</text>
<text x="301.1" y="210.6" text-anchor="end">200</text>
<text x="302.3" y="343.9" text-anchor="end">200</text>
<text x="442" y="210.6" text-anchor="end">300</text>
<text x="443.2" y="343.9" text-anchor="end">300</text>
<text x="582.8" y="210.6" text-anchor="end">400</text>
<text x="584" y="343.9" text-anchor="end">400</text>
<text x="723.4" y="210.6" text-anchor="end">500</text>
<text x="724.6" y="343.9" text-anchor="end">500</text>
<text x="864.5" y="210.6" text-anchor="end">600</text>
<text x="865.7" y="343.9" text-anchor="end">600</text>
<text x="1005.3" y="210.6" text-anchor="end">700</text>
<text x="1006.5" y="343.9" text-anchor="end">700</text>
<text x="1145.7" y="210.6" text-anchor="end">800</text>
<text x="1146.9" y="343.9" text-anchor="end">800</text>
<text x="1286.6" y="210.6" text-anchor="end">900</text>
<text x="1287.8" y="343.9" text-anchor="end">900</text>
</g>
<path d="M27 195h1343v131h-1.8v-129.4h-1339.5v129.4h-1.7z" fill="#fff"/>
<rect x="168" y="195" width="1.3" height="585" fill="#bebebe" fill-opacity=".9"/>
<rect x="308.35" y="195" width="1.3" height="585" fill="#bebebe" fill-opacity=".9"/>
<rect x="449.25" y="195" width="1.3" height="585" fill="#bebebe" fill-opacity=".9"/>
<rect x="590.05" y="195" width="1.3" height="585" fill="#bebebe" fill-opacity=".9"/>
<rect x="730.65" y="195" width="1.3" height="585" fill="#bebebe" fill-opacity=".9"/>
<rect x="871.75" y="195" width="1.3" height="585" fill="#bebebe" fill-opacity=".9"/>
<rect x="1012.55" y="195" width="1.3" height="585" fill="#bebebe" fill-opacity=".9"/>
<rect x="1152.95" y="195" width="1.3" height="585" fill="#bebebe" fill-opacity=".9"/>
<rect x="1293.85" y="195" width="1.3" height="585" fill="#bebebe" fill-opacity=".9"/>
<rect x="27.4" y="221" width="1.5" height="105" fill="#c6c6c6"/><rect x="1368.2" y="221" width="1" height="105" fill="#c2c2c2"/>
</svg>
</body></html>
